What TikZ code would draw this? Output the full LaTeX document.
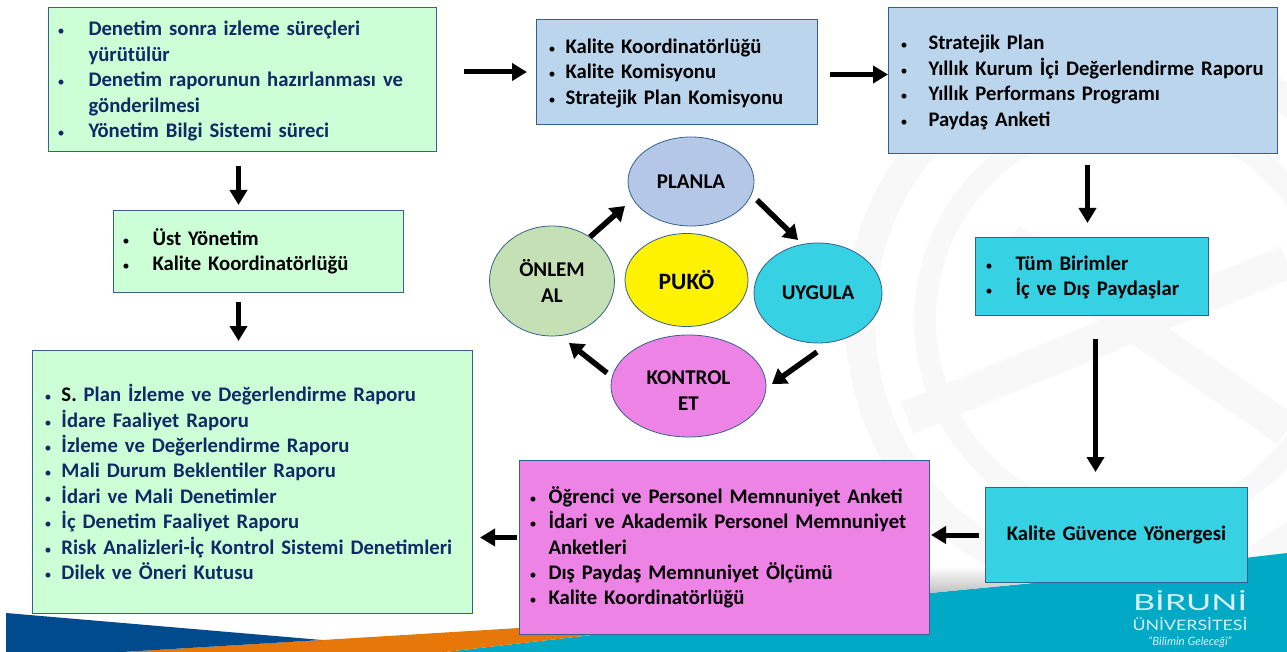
\documentclass[tikz,border=0pt]{standalone}
\usepackage{fontspec}
\setmainfont{Carlito}
\newfontfamily\logofont{Lato}
\usetikzlibrary{arrows.meta,shapes.geometric}
\definecolor{navytext}{HTML}{0F2A66}
\definecolor{edgeblue}{HTML}{35608F}
\definecolor{boxgreen}{HTML}{CCFFD5}
\definecolor{boxblue}{HTML}{BBD5EC}
\definecolor{boxcyan}{HTML}{36D1E3}
\definecolor{boxpink}{HTML}{EE83E6}
\definecolor{ovalblue}{HTML}{B4C7E7}
\definecolor{ovalgreen}{HTML}{C5E0B4}
\definecolor{swooshblue}{HTML}{004B8D}
\definecolor{swooshorange}{HTML}{E8770A}
\definecolor{swooshteal}{HTML}{00A9C6}
\definecolor{markgray}{HTML}{F8F8F8}
\definecolor{logotext}{HTML}{D5F0F5}
\newlength{\bulw}
\newcommand{\bul}[1]{\makebox[\bulw][l]{\fontsize{14}{14}\selectfont\mdseries\textbullet}#1}
\newcommand{\cont}[1]{\hspace*{\bulw}#1}
\tikzset{
	listbox/.style={draw=edgeblue,line width=1pt,anchor=north west,align=left,inner ysep=0pt,
		font=\fontsize{20.7}{25.4}\selectfont\bfseries},
	bulgap/.style={execute at begin node={\setlength{\bulw}{#1}}},
	oval/.style={ellipse,draw=edgeblue,line width=0.8pt,inner sep=0pt,align=center,
		font=\fontsize{21}{26.5}\selectfont\bfseries},
	flowarrow/.style={line width=5pt,-{Triangle[length=15pt,width=17pt]}},
	ringarrow/.style={line width=5.5pt,-{Triangle[length=14pt,width=18pt]}},
}

\begin{document}
\begin{tikzpicture}[x=1pt,y=-1pt]
	\useasboundingbox (0,0) rectangle (1287,652);

	% faint wheel behind the boxes
	\begin{scope}
		\clip (0,0) rectangle (1287,652);
		\draw[markgray,line width=30pt] (1130,320) circle (270);
		\draw[markgray,line width=22pt] (1130,320) circle (205);
		\draw[markgray,line width=34pt] (907,418) -- (1287,262);
		\draw[markgray,line width=34pt] (1010,240) -- (1287,430);
	\end{scope}

	% bottom band
	\fill[swooshteal] (445,652) -- (592,635) -- (930,593) -- (1033,583) -- (1287,553) -- (1287,652) -- cycle;
	\fill[swooshorange] (122,652) -- (322,640) -- (519,628) -- (600,622) -- (592,635) -- (445,652) -- cycle;
	\fill[swooshblue] (6,613) -- (322,640) -- (122,652) -- (6,652) -- cycle;
	\shade[top color=white,bottom color=black!25] (930,566) -- (985,566) -- (1033,583) -- (930,593) -- cycle;

	% boxes
	\node[listbox,fill=boxgreen,text=navytext,bulgap=31pt,inner xsep=9pt,text width=370pt] (denetim) at (48,7)
		[minimum height=144pt] {\rule{0pt}{18pt}\bul{Denetim sonra izleme süreçleri}\\ \cont{yürütülür}\\ \bul{Denetim raporunun hazırlanması ve}\\ \cont{gönderilmesi}\\ \bul{Yönetim Bilgi Sistemi süreci}};
	\node[listbox,fill=boxblue,bulgap=17pt,inner xsep=12pt,text width=257pt] (komisyon) at (536,19)
		[minimum height=105pt] {\rule{0pt}{17pt}\bul{Kalite Koordinatörlüğü}\\ \bul{Kalite Komisyonu}\\ \bul{Stratejik Plan Komisyonu}};
	\node[listbox,fill=boxblue,bulgap=28pt,inner xsep=12pt,text width=365pt] (stratejik) at (888,7)
		[minimum height=146pt] {\rule{0pt}{18.5pt}\bul{Stratejik Plan}\\ \bul{Yıllık Kurum İçi Değerlendirme Raporu}\\ \bul{Yıllık Performans Programı}\\ \bul{Paydaş Anketi}};
	\node[listbox,fill=boxgreen,bulgap=30pt,inner xsep=9pt,text width=272pt] (yonetim) at (113,210)
		[minimum height=82pt] {\bul{Üst Yönetim}\\ \bul{Kalite Koordinatörlüğü}};
	\node[listbox,fill=boxgreen,text=navytext,bulgap=17pt,inner xsep=12pt,text width=416pt] (raporlar) at (32,350)
		[minimum height=263pt] {\bul{\textcolor{black}{S.} Plan İzleme ve Değerlendirme Raporu}\\ \bul{İdare Faaliyet Raporu}\\ \bul{İzleme ve Değerlendirme Raporu}\\ \bul{Mali Durum Beklentiler Raporu}\\ \bul{İdari ve Mali Denetimler}\\ \bul{İç Denetim Faaliyet Raporu}\\ \bul{Risk Analizleri-İç Kontrol Sistemi Denetimleri}\\ \bul{Dilek ve Öneri Kutusu}};
	\node[listbox,fill=boxcyan,bulgap=30pt,inner xsep=10pt,text width=213pt] (birimler) at (975,237)
		[minimum height=78pt] {\rule{0pt}{17pt}\bul{Tüm Birimler}\\ \bul{İç ve Dış Paydaşlar}};
	\node[listbox,fill=boxcyan,align=center,inner xsep=2pt,text width=258pt] (yonerge) at (985,487)
		[minimum height=95pt] {Kalite Güvence Yönergesi};
	\node[listbox,fill=boxpink,bulgap=19pt,inner xsep=10pt,text width=390pt] (anketler) at (519,460)
		[minimum height=174pt] {\bul{Öğrenci ve Personel Memnuniyet Anketi}\\ \bul{İdari ve Akademik Personel Memnuniyet}\\ \cont{Anketleri}\\ \bul{Dış Paydaş Memnuniyet Ölçümü}\\ \bul{Kalite Koordinatörlüğü}};

	% ovals
	\node[oval,fill=ovalblue,minimum width=126pt,minimum height=89pt] (planla) at (691,181.5) {PLANLA};
	\node[oval,fill=yellow,minimum width=123pt,minimum height=93pt,font=\fontsize{23.5}{26}\selectfont\bfseries] (puko) at (686.5,280) {PUKÖ};
	\node[oval,fill=ovalgreen,minimum width=125pt,minimum height=110pt] (onlem) at (552,281) {ÖNLEM\\AL};
	\node[oval,fill=boxcyan,minimum width=128pt,minimum height=100pt] (uygula) at (818,293) {UYGULA};
	\node[oval,fill=boxpink,minimum width=155pt,minimum height=102pt] (kontrol) at (688.5,386) {\rule{0pt}{23pt}KONTROL\\ET};

	% arrows between boxes
	\draw[flowarrow] ([xshift=-4pt,yshift=-14pt]denetim.south) -- ([xshift=-20pt,yshift=5pt]yonetim.north);
	\draw[flowarrow] ([xshift=-20pt,yshift=-9pt]yonetim.south) -- ([xshift=-14pt,yshift=9pt]raporlar.north);
	\draw[flowarrow] ([xshift=27pt,yshift=7.5pt]denetim.east) -- ([xshift=-9pt]komisyon.west);
	\draw[flowarrow] ([xshift=12pt,yshift=-2.5pt]komisyon.east) -- ([yshift=6pt]stratejik.west);
	\draw[flowarrow] ([xshift=4.5pt,yshift=-11pt]stratejik.south) -- ([xshift=-4.5pt,yshift=14pt]birimler.north);
	\draw[flowarrow] ([xshift=3.5pt,yshift=-23pt]birimler.south) -- ([xshift=-21pt,yshift=15pt]yonerge.north);
	\draw[flowarrow] ([xshift=-6pt]yonerge.west) -- ([xshift=1pt,yshift=12.5pt]anketler.east);
	\draw[flowarrow] ([xshift=-2pt,yshift=10pt]anketler.west) -- ([xshift=7pt,yshift=-55.5pt]raporlar.east);

	% arrows round the ovals
	\draw[ringarrow] ([xshift=38pt,yshift=44pt]onlem.center) -- ([xshift=-66pt,yshift=-24.5pt]planla.center);
	\draw[ringarrow] ([xshift=66pt,yshift=-18.5pt]planla.center) -- ([xshift=-20pt,yshift=53pt]uygula.center);
	\draw[ringarrow] ([xshift=-1pt,yshift=-59pt]uygula.center) -- ([xshift=83.5pt,yshift=2pt]kontrol.center);
	\draw[ringarrow] ([xshift=-81.5pt,yshift=13pt]kontrol.center) -- ([xshift=17pt,yshift=-62pt]onlem.center);

	% logo
	\node[text=logotext,font=\logofont\fontsize{27}{27}\selectfont,inner sep=0pt] (logoname) at (1190,600.5) {\resizebox{114pt}{20pt}{BİRUNİ}};
	\node[text=logotext,font=\logofont,inner sep=0pt] (logouni) at (1190,624) {\resizebox{115pt}{13pt}{ÜNİVERSİTESİ}};
	\node[text=logotext,font=\logofont\itshape\fontsize{11.5}{12}\selectfont,inner sep=0pt] (logomotto) at (1190,642) {“Bilimin Geleceği”};
\end{tikzpicture}
\end{document}
